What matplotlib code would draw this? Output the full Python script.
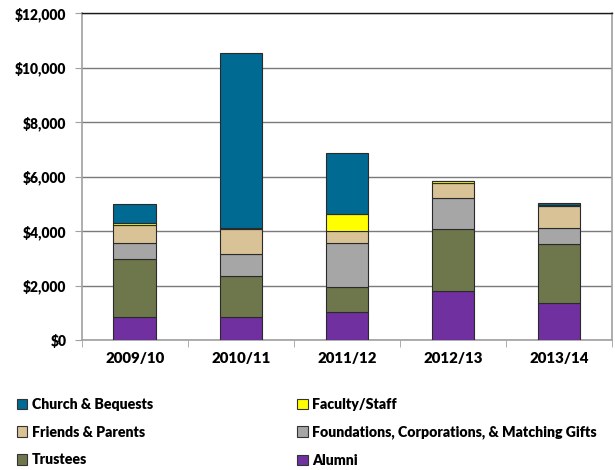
import numpy as np
import matplotlib.pyplot as plt
from matplotlib.patches import Patch

years = ["2009/10", "2010/11", "2011/12", "2012/13", "2013/14"]

# stacked from bottom to top
alumni = [830, 860, 1030, 1800, 1360]
trustees = [2150, 1490, 920, 2280, 2160]
foundations = [590, 800, 1620, 1130, 600]
friends = [650, 920, 430, 560, 800]
faculty = [60, 40, 640, 60, 50]
church = [700, 6420, 2230, 0, 70]

series = [
    ("Alumni", alumni, "#7030A0"),
    ("Trustees", trustees, "#6E774B"),
    ("Foundations, Corporations, & Matching Gifts", foundations, "#A6A6A6"),
    ("Friends & Parents", friends, "#D9C295"),
    ("Faculty/Staff", faculty, "#FFFF00"),
    ("Church & Bequests", church, "#006A92"),
]

plt.rcParams["font.family"] = ["Lato", "DejaVu Sans"]
plt.rcParams["font.weight"] = "heavy"

fig = plt.figure(figsize=(6.15, 4.7), dpi=100)
ax = fig.add_axes([0.1328, 0.2766, 0.8622, 0.6957])

x = np.arange(len(years))
bottom = np.zeros(len(years))
for name, vals, col in series:
    vals = np.array(vals, dtype=float)
    ax.bar(x, vals, 0.4, bottom=bottom, color=col, edgecolor="#2a2a2a",
           linewidth=0.8, zorder=3)
    bottom += vals

ax.set_xlim(-0.5, len(years) - 0.5)
ax.set_ylim(0, 12000)
ax.set_yticks(np.arange(0, 12001, 2000))
ax.set_yticklabels([f"${v:,.0f}" for v in np.arange(0, 12001, 2000)],
                   fontsize=10, fontweight="heavy")
ax.set_xticks(x)
ax.set_xticklabels(years, fontsize=10.8, fontweight="heavy")
ax.set_xticks(np.arange(-0.5, len(years)), minor=True)
ax.tick_params(axis="x", which="major", length=0, pad=9)
ax.tick_params(axis="x", which="minor", length=5, color="#A0A0A0", direction="out")
ax.tick_params(axis="y", length=5, color="#A0A0A0", pad=6)

ax.yaxis.grid(True, color="#7a7a7a", linewidth=1.0, zorder=0)
ax.set_axisbelow(True)
for s in ["left", "bottom", "right"]:
    ax.spines[s].set_color("#A0A0A0")
    ax.spines[s].set_linewidth(1.2)
ax.spines["top"].set_color("#1a1a1a")
ax.spines["top"].set_linewidth(1.0)

lookup = {name: col for name, _, col in series}
col1 = ["Church & Bequests", "Friends & Parents", "Trustees"]
col2 = ["Faculty/Staff", "Foundations, Corporations, & Matching Gifts", "Alumni"]
for names, xpos in [(col1, 0.018), (col2, 0.474)]:
    handles = [Patch(facecolor=lookup[n], edgecolor="#333333", linewidth=0.8) for n in names]
    fig.legend(handles, names, loc="upper left", bbox_to_anchor=(xpos, 0.166),
               frameon=False, handlelength=0.75, handleheight=0.75,
               handletextpad=0.3, labelspacing=1.05, borderaxespad=0,
               prop={"weight": "heavy", "size": 10.2})

fig.savefig("out.png", dpi=100)
